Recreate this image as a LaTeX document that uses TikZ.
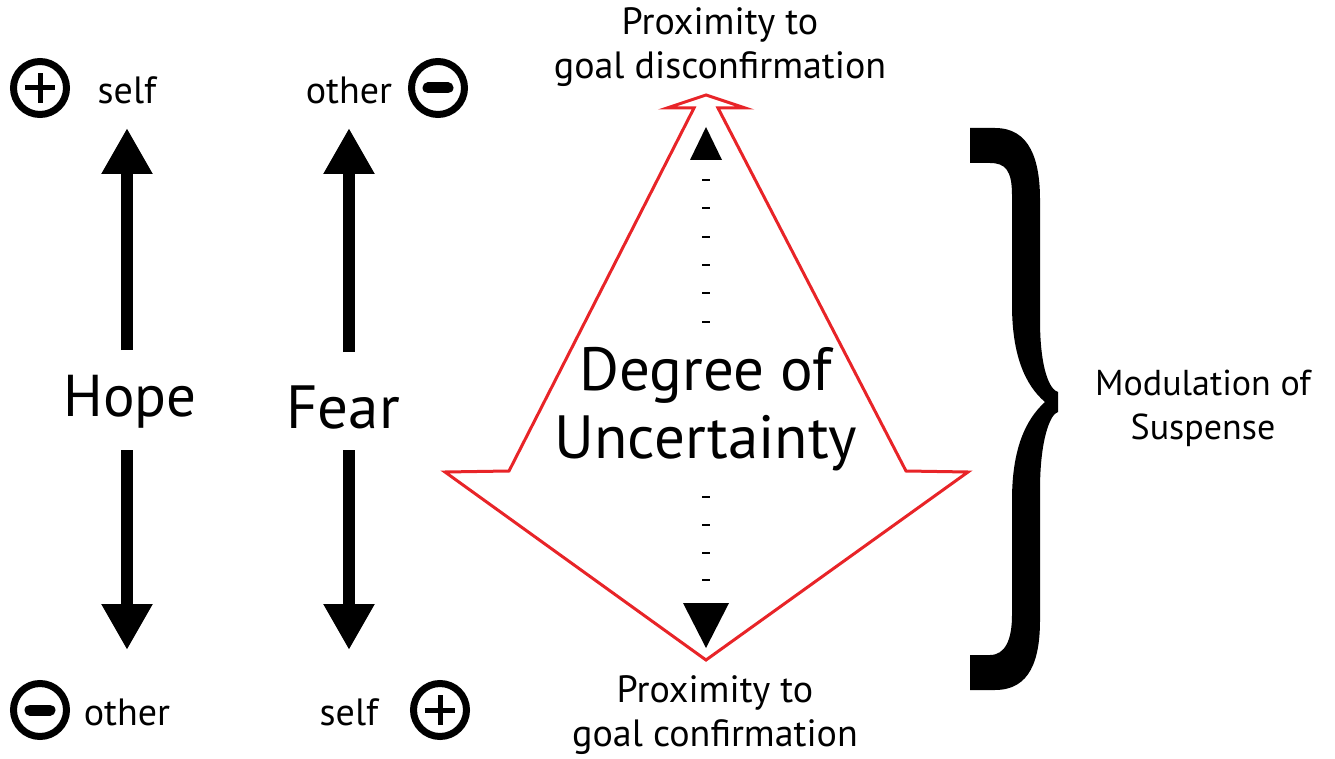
\documentclass[tikz,border=0pt]{standalone}
\usepackage{fontspec}
\setmainfont{PT Sans}
\usetikzlibrary{arrows.meta}
\definecolor{shapered}{RGB}{232,36,40}
\tikzset{
  lbl/.style={font=\fontsize{38}{44}\selectfont, align=center, inner sep=0pt},
  biglbl/.style={font=\fontsize{61}{68}\selectfont, align=center, inner sep=0pt},
  badge/.style={circle, draw, line width=7pt, minimum size=53pt, inner sep=0pt},
  plusbadge/.style={badge, path picture={
      \draw[line width=5pt] ([xshift=-15pt]path picture bounding box.center) -- ([xshift=15pt]path picture bounding box.center);
      \draw[line width=5pt] ([yshift=-15pt]path picture bounding box.center) -- ([yshift=15pt]path picture bounding box.center);}},
  minusbadge/.style={badge, path picture={
      \draw[line width=11pt, line cap=round] ([xshift=-10pt]path picture bounding box.center) -- ([xshift=10pt]path picture bounding box.center);}},
  bigarrow/.style={line width=12pt, -{Triangle[length=46pt,width=48pt]}},
}
\begin{document}
\begin{tikzpicture}[x=1pt,y=-1pt]
  \useasboundingbox (0,0) rectangle (1335,759);
  % left: hope and fear
  \node[plusbadge] (plusA) at (40,88) {};
  \node[lbl] (selfA) at (127,90) {self};
  \node[lbl] (otherB) at (349,90) {other};
  \node[minusbadge] (minusB) at (438,88) {};
  \node[minusbadge] (minusA) at (40,710) {};
  \node[lbl] (otherA) at (127,712) {other};
  \node[lbl] (selfB) at (349,712) {self};
  \node[plusbadge] (plusB) at (440,710) {};
  \node[biglbl, font=\fontsize{59}{68}\selectfont] (hope) at (130,402) {Hope};
  \node[biglbl] (fear) at (343,408) {Fear};
  \draw[bigarrow, shorten <=52pt, shorten >=38pt] (selfA.center |- hope.center) -- (selfA.center);
  \draw[bigarrow, shorten <=48pt, shorten >=62pt] (otherA.center |- hope.center) -- (otherA.center);
  \draw[bigarrow, shorten <=56pt, shorten >=38pt] (otherB.center |- fear.center) -- (otherB.center);
  \draw[bigarrow, shorten <=42pt, shorten >=62pt] (selfB.center |- fear.center) -- (selfB.center);
  % red double arrow
  \draw[shapered, line width=3pt, line join=miter]
    (706,95) -- (745,108) -- (718,108) -- (906,471) -- (968,472) -- (706,660)
    -- (445,472) -- (509,471) -- (694,108) -- (667,108) -- cycle;
  % dashed axis
  \fill (706,127) -- (722,160) -- (690,160) -- cycle;
  \fill (706,648) -- (729,603) -- (683,603) -- cycle;
  \foreach \y in {180,208,237,265,293,322,497,525,553,580}
    \draw[line width=2.5pt] (702,\y) -- (710,\y);
  \node[biglbl] (degree) at (706,409) {Degree of\\Uncertainty};
  \node[lbl] (proxtop) at (720,47) {Proximity to\\goal disconfirmation};
  \node[lbl] (proxbot) at (715,715) {Proximity to\\goal confirmation};
  % brace
  \fill (970,128) -- (995,128) .. controls (1030,128) and (1040,160) .. (1040,200)
    -- (1040,320) .. controls (1040,370) and (1050,390) .. (1058,392)
    -- (1058,412) .. controls (1050,414) and (1040,440) .. (1040,490)
    -- (1040,620) .. controls (1040,660) and (1030,690) .. (995,690)
    -- (970,690) -- (970,655) -- (990,655) .. controls (1005,655) and (1012,640) .. (1012,615)
    -- (1012,500) .. controls (1012,450) and (1025,420) .. (1045,402)
    .. controls (1025,385) and (1012,355) .. (1012,305)
    -- (1012,195) .. controls (1012,170) and (1005,163) .. (990,163) -- (970,163) -- cycle;
  \node[lbl, font=\fontsize{36}{44}\selectfont] (suspense) at (1203,408) {Modulation of\\Suspense};
\end{tikzpicture}
\end{document}
